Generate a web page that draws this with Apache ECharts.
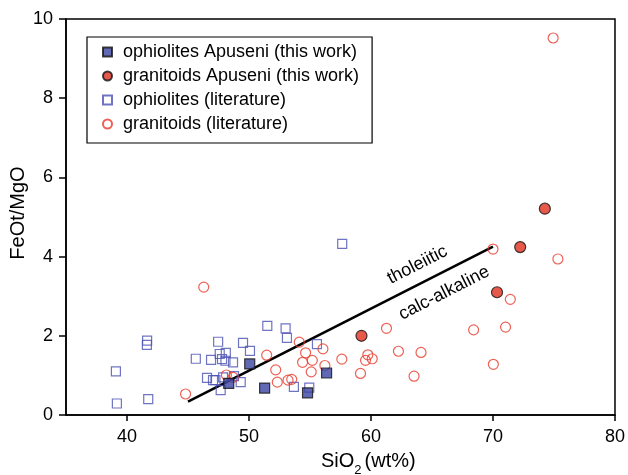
<!DOCTYPE html>
<html>
<head>
<meta charset="utf-8">
<script src="https://cdn.jsdelivr.net/npm/echarts@6/dist/echarts.min.js"></script>
<style>html,body{margin:0;padding:0;background:#fff}#c{width:628px;height:475px}</style>
</head>
<body>
<div id="c"></div>
<script>
var xTicks = [40, 50, 60, 70, 80];
var ophApuseni = [[50.06,1.29],[51.28,0.68],[48.34,0.80],[54.8,0.56],[56.36,1.06]];
var graApuseni = [[59.22,2.0],[70.33,3.10],[72.23,4.24],[74.25,5.21]];
var ophLit = [[39.09,1.10],[39.17,0.29],[41.65,1.88],[41.63,1.77],[41.74,0.40],[45.64,1.42],[47.47,1.85],[46.89,1.39],[47.6,1.54],[47.79,1.41],[48.1,1.57],[48.07,1.37],[48.69,1.33],[46.56,0.94],[47.05,0.88],[47.25,0.88],[47.87,0.95],[48.77,0.98],[49.32,0.83],[47.68,0.63],[51.5,2.25],[53.0,2.19],[53.11,1.95],[49.51,1.82],[50.08,1.62],[53.68,0.71],[55.57,1.79],[54.94,0.69],[57.64,4.32]];
var graLit = [[74.93,9.52],[46.29,3.23],[44.8,0.53],[70.0,4.19],[75.32,3.94],[71.42,2.92],[61.27,2.19],[68.41,2.15],[71.03,2.22],[62.25,1.61],[64.1,1.58],[70.03,1.28],[63.53,0.98],[54.12,1.84],[56.06,1.67],[54.64,1.57],[54.39,1.33],[55.19,1.38],[57.61,1.41],[59.74,1.52],[59.55,1.38],[60.1,1.42],[56.22,1.25],[55.1,1.09],[59.14,1.05],[53.2,0.88],[53.5,0.90],[51.45,1.51],[52.19,1.14],[52.32,0.83],[48.15,1.01],[48.7,0.95]];
var divider = [[45,0.34],[70,4.25]];
var fieldLabels = [{text:'tholeiitic', x:63.8, y:3.79},{text:'calc-alkaline', x:66.0, y:3.08}];

var FONT = '"Liberation Sans", Arial, sans-serif';
var chart = echarts.init(document.getElementById('c'), null, {renderer:'canvas'});
var option = {
  animation: false,
  backgroundColor: '#fff',
  grid: {left: 66, right: 12, top: 19, bottom: 60, show: true, borderColor: '#000', borderWidth: 1.5, backgroundColor: 'transparent'},
  xAxis: {
    type: 'value', min: 35, max: 80,
    axisLine: {show: true, onZero: false, lineStyle: {color: '#000', width: 1.5}},
    axisTick: {show: true, inside: false, length: 6, customValues: xTicks, lineStyle: {color: '#000', width: 1.5}},
    axisLabel: {customValues: xTicks, color: '#000', fontSize: 18, fontFamily: FONT, margin: 13},
    splitLine: {show: false}
  },
  yAxis: {
    type: 'value', min: 0, max: 10, interval: 2,
    axisLine: {show: true, onZero: false, lineStyle: {color: '#000', width: 1.5}},
    axisTick: {show: true, inside: false, length: 7, lineStyle: {color: '#000', width: 1.5}},
    axisLabel: {color: '#000', fontSize: 18, fontFamily: FONT, margin: 13},
    splitLine: {show: false}
  },
  legend: {
    orient: 'vertical', left: 87, top: 37,
    padding: [6, 13, 10, 15], itemGap: 6,
    itemWidth: 9, itemHeight: 9,
    borderColor: '#000', borderWidth: 1.2, backgroundColor: '#fff',
    textStyle: {color: '#000', fontSize: 18, fontFamily: FONT, padding: [0,0,0,6]},
    data: ['ophiolites Apuseni (this work)', 'granitoids Apuseni (this work)', 'ophiolites (literature)', 'granitoids (literature)']
  },
  series: [
    {name: 'divider', type: 'line', data: divider, symbol: 'none', silent: true,
     lineStyle: {color: '#000', width: 2.6}, z: 1},
    {name: 'ophiolites (literature)', type: 'scatter', data: ophLit, symbol: 'rect', symbolSize: 9,
     itemStyle: {color: 'rgba(255,255,255,0)', borderColor: '#4b51b3', borderWidth: 1.2}, z: 2},
    {name: 'granitoids (literature)', type: 'scatter', data: graLit, symbol: 'circle', symbolSize: 10,
     itemStyle: {color: 'rgba(255,255,255,0)', borderColor: '#e8392a', borderWidth: 1.2}, z: 3},
    {name: 'ophiolites Apuseni (this work)', type: 'scatter', data: ophApuseni, symbol: 'rect', symbolSize: 10,
     itemStyle: {color: '#3a43a3', borderColor: '#111', borderWidth: 1.2}, z: 4},
    {name: 'granitoids Apuseni (this work)', type: 'scatter', data: graApuseni, symbol: 'circle', symbolSize: 11,
     itemStyle: {color: '#e0301e', borderColor: '#111', borderWidth: 1.2}, z: 5}
  ]
};
chart.setOption(option);

var g = fieldLabels.map(function (f) {
  var p = chart.convertToPixel({gridIndex: 0}, [f.x, f.y]);
  return {type: 'text', x: p[0], y: p[1], rotation: 27 * Math.PI / 180,
    style: {text: f.text, fill: '#000', fontSize: 18, fontFamily: FONT, align: 'center', verticalAlign: 'middle'}, z: 10};
});
g.push({type: 'text', left: 321, top: 451, style: {rich: {a: {fontSize: 20, fontFamily: FONT, fill: '#000'}, s: {fontSize: 13, fontFamily: FONT, fill: '#000', verticalAlign: 'bottom', padding: [0,3,-6,0]}}, text: '{a|SiO}{s|2}{a|(wt%)}'}});
g.push({type: 'text', x: 18, y: 213, rotation: Math.PI / 2,
  style: {text: 'FeOt/MgO', fill: '#000', fontSize: 20, fontFamily: FONT, align: 'center', verticalAlign: 'middle'}});
chart.setOption({graphic: g});
</script>
</body>
</html>
